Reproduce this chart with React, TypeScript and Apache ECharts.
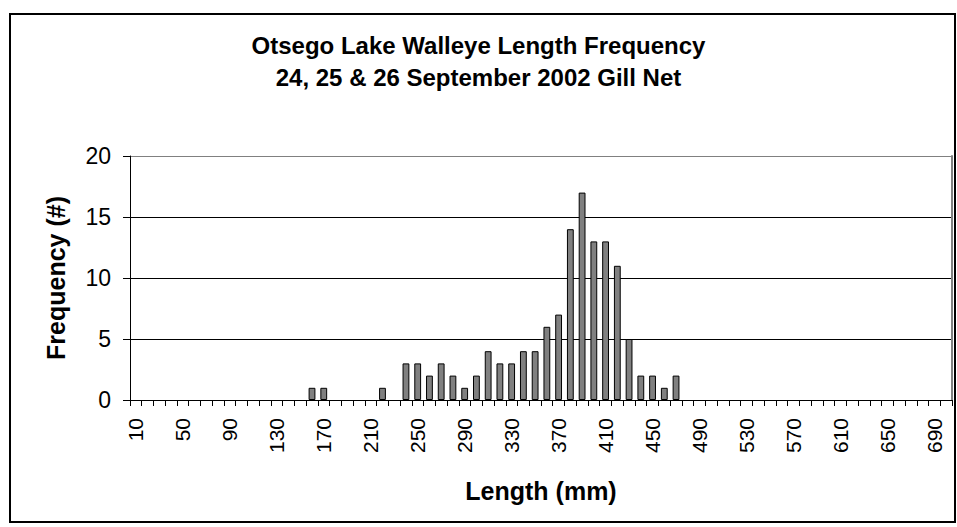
import React, { useEffect, useRef } from "react";
import * as echarts from "echarts";

// Length bins (mm), 10 mm classes from 10 to 700
const lengthBins: number[] = [
  10, 20, 30, 40, 50, 60, 70, 80, 90, 100, 110, 120, 130, 140, 150, 160, 170, 180, 190, 200,
  210, 220, 230, 240, 250, 260, 270, 280, 290, 300, 310, 320, 330, 340, 350, 360, 370, 380, 390, 400,
  410, 420, 430, 440, 450, 460, 470, 480, 490, 500, 510, 520, 530, 540, 550, 560, 570, 580, 590, 600,
  610, 620, 630, 640, 650, 660, 670, 680, 690, 700,
];

// Observed bins and their counts (all other bins have no fish)
const observedLengths: number[] = [
  160, 170, 220, 240, 250, 260, 270, 280, 290, 300, 310, 320, 330, 340, 350, 360, 370, 380, 390, 400,
  410, 420, 430, 440, 450, 460, 470,
];
const observedCounts: number[] = [
  1, 1, 1, 3, 3, 2, 3, 2, 1, 2, 4, 3, 3, 4, 4, 6, 7, 14, 17, 13,
  13, 11, 5, 2, 2, 1, 2,
];

const yTicks: number[] = [0, 5, 10, 15, 20];

const titleLines: string[] = [
  "Otsego Lake Walleye Length Frequency",
  "24, 25 & 26 September 2002 Gill Net",
];

const FONT = "'Liberation Sans', Arial, sans-serif";

export default function App() {
  const ref = useRef<HTMLDivElement>(null);

  useEffect(() => {
    if (!ref.current) return;
    const chart = echarts.init(ref.current, undefined, { renderer: "svg" });
    const counts = lengthBins.map((b) => {
      const i = observedLengths.indexOf(b);
      return i >= 0 ? observedCounts[i] : "-";
    });
    chart.setOption({
      animation: false,
      backgroundColor: "#ffffff",
      textStyle: { fontFamily: FONT },
      title: {
        text: titleLines.join("\n"),
        left: "center",
        top: 24,
        textStyle: {
          fontFamily: FONT,
          fontWeight: "bold",
          fontSize: 24,
          lineHeight: 32,
          color: "#000",
        },
      },
      graphic: [
        {
          type: "rect",
          shape: { x: 10, y: 14, width: 945, height: 508 },
          style: { fill: "none", stroke: "#000", lineWidth: 2 },
          silent: true,
        },
      ],
      grid: {
        left: 130,
        top: 156,
        right: 5,
        bottom: 127,
        show: false,
      },
      xAxis: {
        type: "category",
        data: lengthBins.map(String),
        boundaryGap: true,
        name: "Length (mm)",
        nameLocation: "middle",
        nameGap: 78,
        nameTextStyle: { fontFamily: FONT, fontWeight: "bold", fontSize: 25, color: "#000" },
        axisLine: { show: true, lineStyle: { color: "#000", width: 1 } },
        axisTick: { show: true, interval: 0, length: 6, inside: false, lineStyle: { color: "#000" } },
        axisLabel: {
          interval: 3,
          rotate: 90,
          margin: 18,
          fontFamily: FONT,
          fontSize: 21,
          color: "#000",
        },
        splitLine: { show: false },
      },
      yAxis: [
        {
          type: "value",
          min: yTicks[0],
          max: yTicks[yTicks.length - 1],
          interval: 5,
          name: "Frequency (#)",
          nameLocation: "middle",
          nameGap: 62,
          nameTextStyle: { fontFamily: FONT, fontWeight: "bold", fontSize: 25, color: "#000" },
          axisLine: { show: true, lineStyle: { color: "#000", width: 1 } },
          axisTick: { show: true, length: 7, lineStyle: { color: "#000" } },
          axisLabel: { margin: 19, fontFamily: FONT, fontSize: 23, color: "#000" },
          splitLine: {
            show: true,
            lineStyle: { color: ["#000", "#000", "#000", "#000", "#808080"], width: 1 },
          },
        },
        {
          type: "value",
          position: "right",
          min: yTicks[0],
          max: yTicks[yTicks.length - 1],
          interval: 5,
          axisLine: { show: true, lineStyle: { color: "#808080", width: 2 } },
          axisTick: { show: false },
          axisLabel: { show: false },
          splitLine: { show: false },
        },
      ],
      series: [
        {
          type: "bar",
          data: counts,
          barCategoryGap: "42%",
          itemStyle: { color: "#808080", borderColor: "#000", borderWidth: 1 },
        },
      ],
    });
    return () => chart.dispose();
  }, []);

  return (
    <div
      ref={ref}
      style={{ position: "fixed", left: 0, top: 0, width: 957, height: 527 }}
    />
  );
}
